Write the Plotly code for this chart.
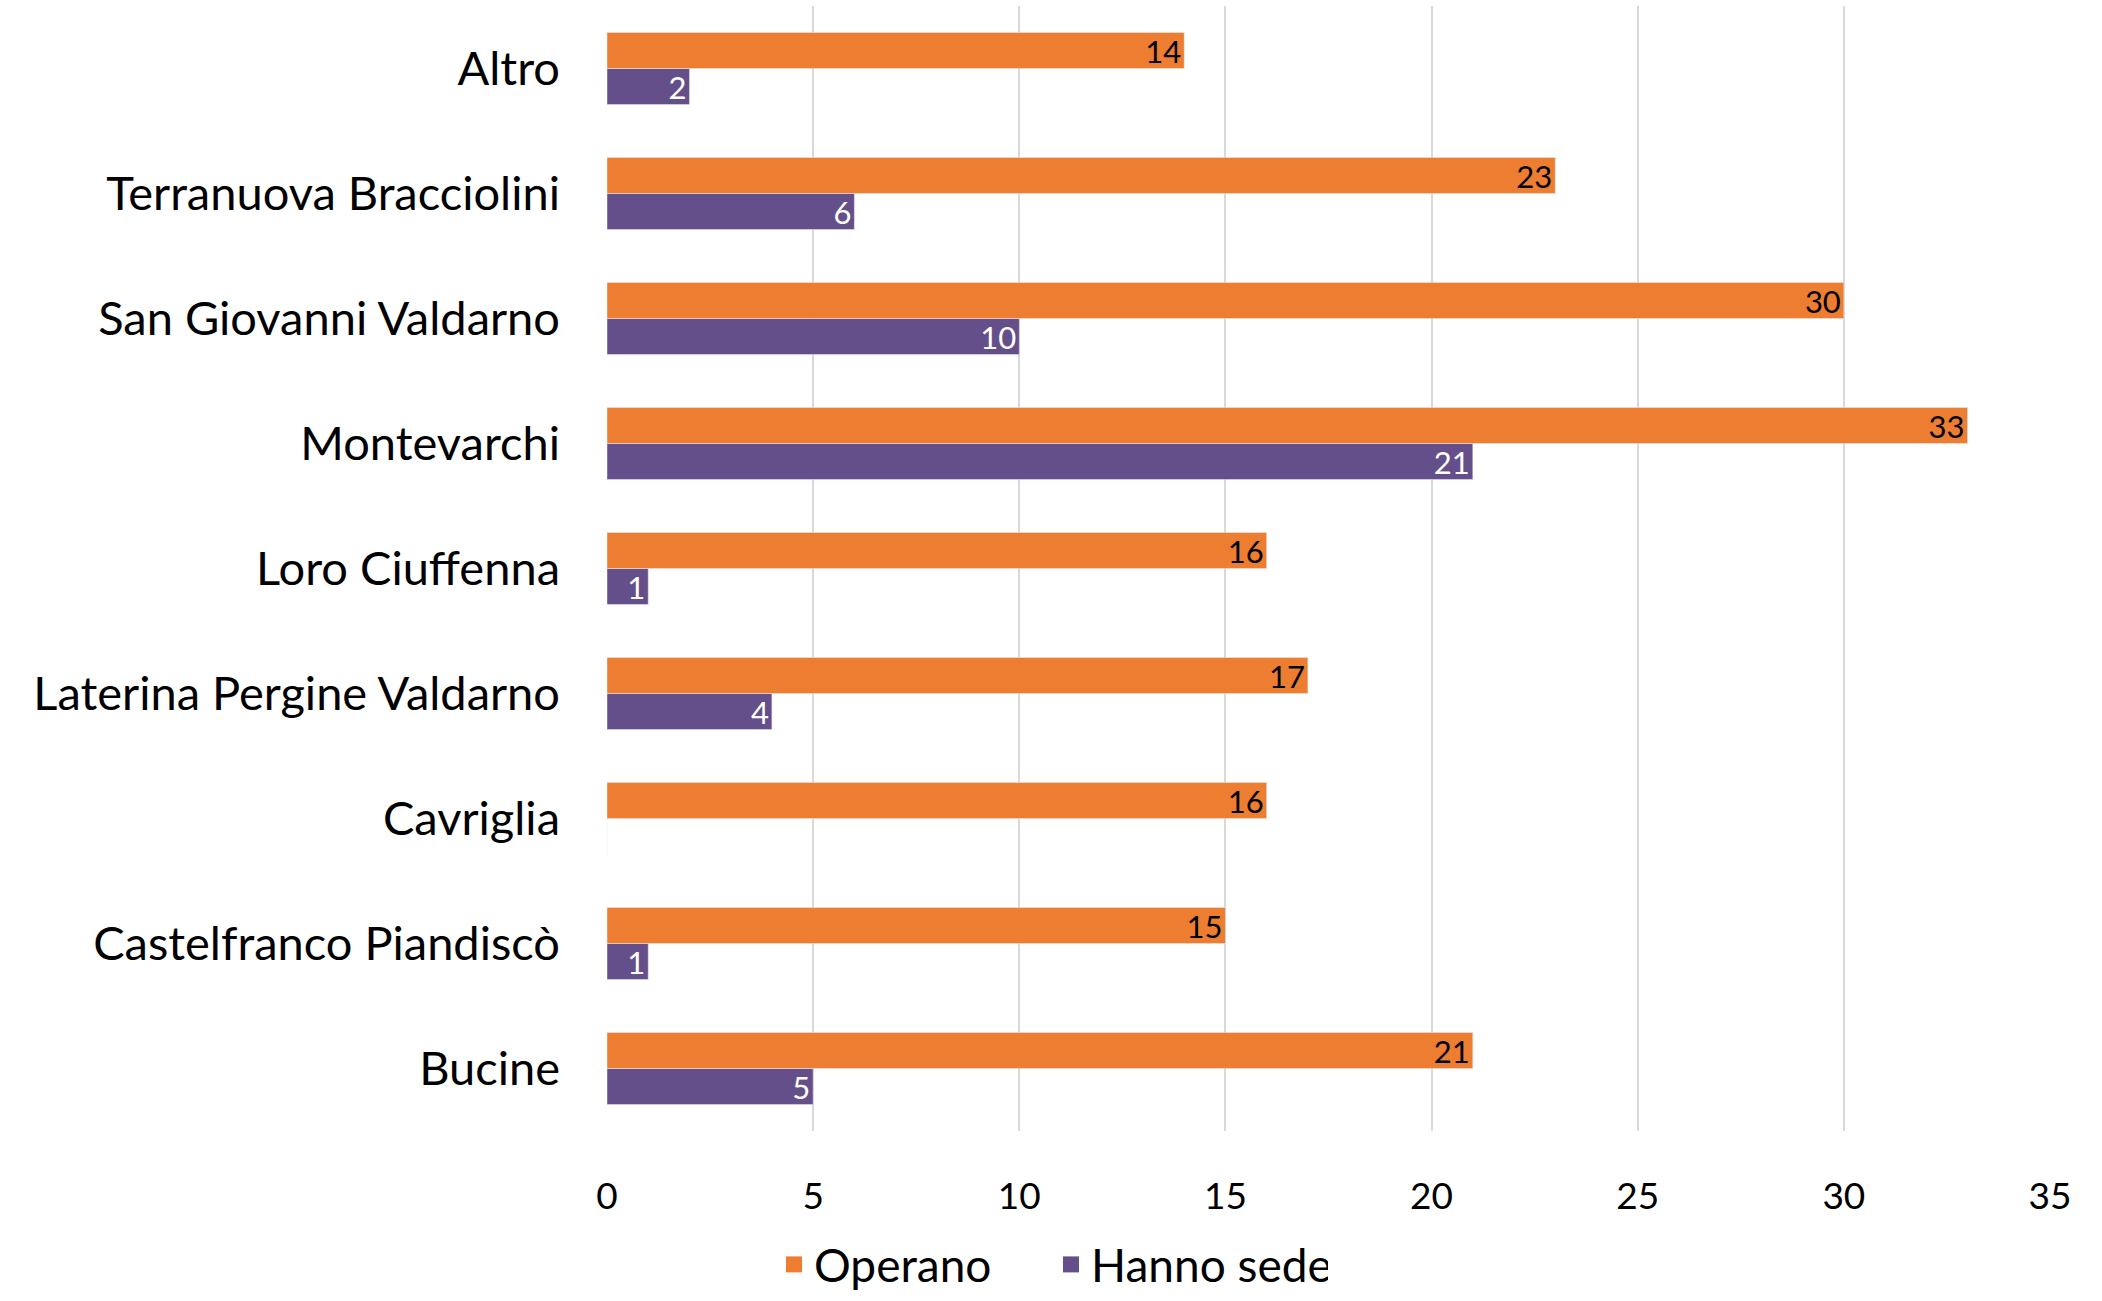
import plotly.graph_objects as go

categories = ["Bucine", "Castelfranco Piandiscò", "Cavriglia", "Laterina Pergine Valdarno",
              "Loro Ciuffenna", "Montevarchi", "San Giovanni Valdarno",
              "Terranuova Bracciolini", "Altro"]
operano = [21, 15, 16, 17, 16, 33, 30, 23, 14]
hanno_sede = [5, 1, 0, 4, 1, 21, 10, 6, 2]
x_ticks = [0, 5, 10, 15, 20, 25, 30, 35]

FONT = "Lato"
ORANGE = "#ed7d31"
PURPLE = "#654f8b"
fig = go.Figure()
fig.add_trace(go.Bar(
    y=categories, x=hanno_sede, orientation="h", name="Hanno sede",
    marker=dict(color=PURPLE), showlegend=False,
    text=[str(v) if v else "" for v in hanno_sede], textposition="inside",
    insidetextanchor="end", textangle=0, constraintext="none",
    textfont=dict(color="white", size=31, family=FONT),
))
fig.add_trace(go.Bar(
    y=categories, x=operano, orientation="h", name="Operano",
    marker=dict(color=ORANGE), showlegend=False,
    text=[str(v) for v in operano], textposition="inside",
    insidetextanchor="end", textangle=0, constraintext="none",
    textfont=dict(color="black", size=31, family=FONT),
))
# legend entries with square swatches
for nm, col, rk in [("Operano", ORANGE, 1), ("Hanno sede", PURPLE, 2)]:
    fig.add_trace(go.Scatter(
        x=[None], y=[None], mode="markers", name=nm, legendrank=rk,
        marker=dict(symbol="square", size=26, color=col),
    ))
fig.update_layout(
    width=2102, height=1301,
    margin=dict(l=607, r=52, t=6, b=170),
    barmode="group", bargap=0.424, bargroupgap=0,
    plot_bgcolor="white", paper_bgcolor="white",
    font=dict(family=FONT, size=46, color="black"),
    xaxis=dict(range=[0, 35], tickvals=x_ticks, showgrid=True, gridcolor="#d9d9d9",
               gridwidth=2, zeroline=False, showline=False, ticks="",
               tickfont=dict(size=37, family=FONT), ticklabelstandoff=40),
    yaxis=dict(type="category", categoryorder="array", categoryarray=categories,
               showgrid=False, zeroline=False, showline=False, ticks="",
               tickfont=dict(size=47, family=FONT), ticklabelstandoff=46),
    legend=dict(orientation="h", xref="container", yref="container",
                x=0.5, xanchor="center", y=-0.014, yanchor="bottom",
                font=dict(size=46, family=FONT), itemwidth=30,
                entrywidth=232, entrywidthmode="pixels"),
    showlegend=True,
)
fig.write_html("out.html")
